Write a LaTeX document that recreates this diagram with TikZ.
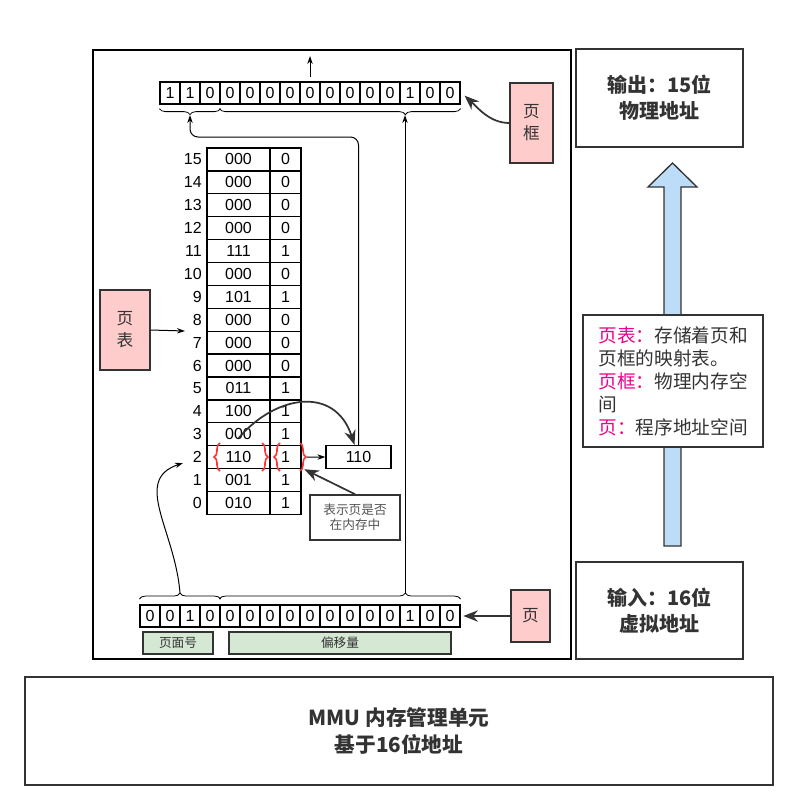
\documentclass[tikz,border=0pt]{standalone}
\usepackage{fontspec}
\setmainfont{Liberation Sans}
\newfontfamily\cjk{Noto Sans CJK SC}
\usetikzlibrary{arrows.meta, positioning, decorations.pathreplacing}
\definecolor{ink}{HTML}{333333}
\definecolor{notepink}{HTML}{FFCCCC}
\definecolor{fieldgreen}{HTML}{D5E8D4}
\definecolor{flowblue}{HTML}{BDDCF7}
\definecolor{bracered}{HTML}{FF3333}

\begin{document}
\begin{tikzpicture}[x=0.75pt, y=-0.75pt,
    % Styles
    bit/.style={
        draw=black, line width=0.9pt, minimum width=15pt, minimum height=16.5pt,
        inner sep=0pt, font=\fontsize{12}{14}\selectfont
    },
    entry/.style={
        draw=black, line width=0.9pt, minimum width=#1, minimum height=17.2pt,
        inner sep=0pt, font=\fontsize{12}{14}\selectfont
    },
    rowno/.style={
        anchor=east, inner sep=0pt, font=\fontsize{12}{14}\selectfont
    },
    tag/.style={
        draw=ink, line width=1pt, fill=notepink, align=center, text=ink,
        font=\cjk\fontsize{12.5}{16.5}\selectfont
    },
    field/.style={
        draw=ink, line width=1pt, fill=fieldgreen, minimum height=16.5pt,
        inner sep=0pt, text=ink, font=\cjk\fontsize{9.5}{11}\selectfont
    },
    panel/.style={
        draw=ink, line width=1.1pt, fill=white, align=center, text=ink,
        font=\cjk\bfseries\fontsize{15}{19.5}\selectfont
    },
    link/.style={
        -{Stealth[length=6pt, width=4pt]}, line width=0.75pt, black
    },
    heavy/.style={
        -{Stealth[length=11pt, width=8.5pt]}, line width=1.3pt, ink
    },
    bracket/.style={
        decorate, decoration={brace, amplitude=4.5pt, aspect=#1}, line width=0.6pt
    },
    bracket/.default=0.5,
    redbrace/.style={
        decorate, decoration={brace, amplitude=4.5pt}, line width=1.2pt, bracered
    }
]
\useasboundingbox (0,0) rectangle (787,810);

% ── MMU frame ──────────────────────────────────────────────────────────────
\draw[line width=0.9pt] (93,50) rectangle (571,659);

% ── Physical address (15 bits) ─────────────────────────────────────────────
\foreach \b [count=\k from 0] in {1,1,0,0,0,0,0,0,0,0,0,0,1,0,0}
    \node[bit] (pa\k) at ({170+20*\k}, 93) {\b};

% ── Virtual address (16 bits) ──────────────────────────────────────────────
\foreach \b [count=\k from 0] in {0,0,1,0,0,0,0,0,0,0,0,0,0,1,0,0}
    \node[bit] (va\k) at ({150+20*\k}, 616) {\b};

\node[field, minimum width=52.5pt] (vpnfield) at (178,643) {页面号};
\node[field, minimum width=166.5pt] (offfield) at (340,643) {偏移量};

% Braces
\draw[bracket] ([yshift=-3pt]pa2.south east) -- ([yshift=-3pt]pa0.south west);
\draw[bracket=0.229] ([yshift=-3pt]pa14.south east) -- ([yshift=-3pt]pa3.south west);
\draw[bracket] ([yshift=4pt]va0.north west) -- ([yshift=4pt]va3.north east);
\draw[bracket=0.771] ([yshift=4pt]va4.north west) -- ([yshift=4pt]va15.north east);
\coordinate (ppnin) at (190,115);
\coordinate (offin) at (405,115);
\coordinate (vpnout) at (180,593);
\coordinate (offout) at (405,593);

% ── Page table ─────────────────────────────────────────────────────────────
\foreach \i/\f/\p in {15/000/0, 14/000/0, 13/000/0, 12/000/0, 11/111/1, 10/000/0,
        9/101/1, 8/000/0, 7/000/0, 6/000/0, 5/011/1, 4/100/1, 3/000/1, 2/110/1,
        1/001/1, 0/010/1} {
    \node[entry=47.25pt] (pf\i) at (238.5, {148+(15.5-\i)*22.9}) {\f};
    \node[entry=23.25pt] (pv\i) at (285.5, {148+(15.5-\i)*22.9}) {\p};
    \node[rowno] (pn\i) at (202, {148+(15.5-\i)*22.9}) {\i};
}

% Red marks on entry 2
\draw[redbrace] (220,471) -- (220,443);
\draw[redbrace] (262,443) -- (262,471);
\draw[redbrace] (280,471) -- (280,443);
\draw[redbrace] (300,443) -- (300,471);

\node[draw=black, line width=0.9pt, minimum width=48.75pt, minimum height=17.25pt,
    inner sep=0pt, font=\fontsize{12}{14}\selectfont] (ppnbox) at (358.5,457) {110};
\node[draw=ink, line width=1.2pt, minimum width=67.5pt, minimum height=33.75pt,
    align=center, text=ink!85, font=\cjk\fontsize{9.5}{11.5}\selectfont] (note) at (355,517.5) {表示页是否\\在内存中};

% ── Labels ─────────────────────────────────────────────────────────────────
\node[tag, minimum width=37.5pt, minimum height=60pt] (ptab) at (125,330) {页\\表};
\node[tag, minimum width=32.25pt, minimum height=60pt] (pframe) at (531.5,123) {页\\框};
\node[tag, minimum width=29.25pt, minimum height=39pt] (page) at (530.5,616) {页};
\coordinate (ptabin) at (185,331);
\coordinate (vpnin) at (183,463);
\coordinate (paout) at (310,56);

% ── Right column ───────────────────────────────────────────────────────────
\node[panel, minimum width=125.25pt, minimum height=73.5pt] (phys) at (659.5,98) {输出：15位\\物理地址};
\node[panel, minimum width=125.25pt, minimum height=72.75pt] (virt) at (659.5,610.5) {输入：16位\\虚拟地址};
\draw[ink, line width=1pt, fill=flowblue] (664,546) -- (664,187) -- (648,187) -- (672.5,163)
    -- (697,187) -- (681,187) -- (681,546) -- cycle;
\node[draw=ink, line width=1.1pt, fill=white, minimum width=135pt, minimum height=99pt,
    align=left, text=ink, font=\cjk\fontsize{14}{17.25}\selectfont] (legend) at (673,381)
    {\textcolor{magenta}{页表：}存储着页和\\页框的映射表。\\\textcolor{magenta}{页框：}物理内存空\\间\\\textcolor{magenta}{页：}程序地址空间};

% ── MMU ────────────────────────────────────────────────────────────────────
\node[panel, minimum width=561pt, minimum height=81pt,
    font=\cjk\bfseries\fontsize{15.5}{20}\selectfont] (mmu) at (399,731) {MMU 内存管理单元\\基于16位地址};

% ── Arrows ─────────────────────────────────────────────────────────────────
\draw[link] ([yshift=3pt]pa7.north) -- (paout);
\draw[link] (offout) -- (offin);
\draw[link, rounded corners=6pt] (ppnbox.north) |- ([yshift=-16.5pt]ppnin) -- (ppnin);
\draw[link] ([xshift=4pt]pv2.east) -- (ppnbox.west);
\draw[heavy] ([yshift=6pt]pf3.south) .. controls (275,395) and (335,385) .. ([xshift=-3pt]ppnbox.north);
\draw[link] (vpnout) .. controls (175,530) and (132,480) .. (vpnin);
\draw[link] (ptab.east) -- (ptabin);
\draw[heavy] (pframe.west) .. controls (490,123) and (478,108) .. ([xshift=3pt,yshift=-2pt]pa14.east);
\draw[heavy] (page.west) -- ([xshift=2pt]va15.east);
\draw[heavy] (note.north) -- ([xshift=2pt]pv2.south east);

\end{tikzpicture}
\end{document}
